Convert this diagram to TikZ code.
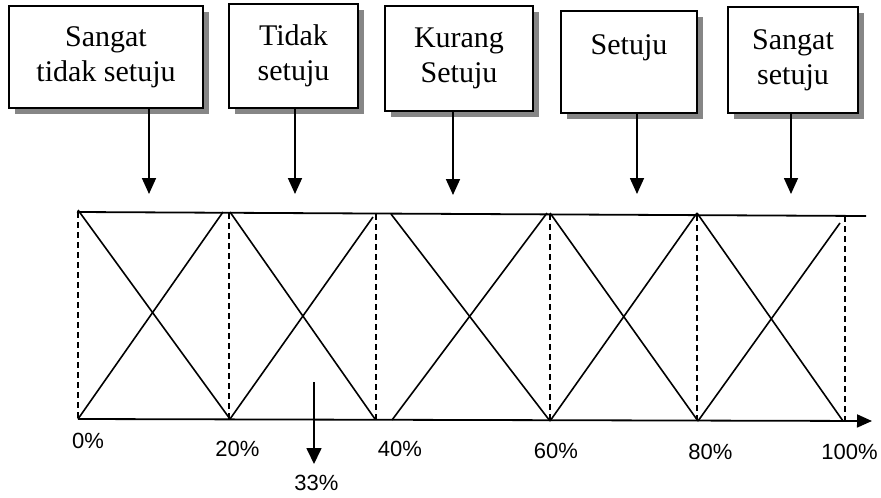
\documentclass[tikz,border=0pt]{standalone}
\usepackage{fontspec}
\setmainfont{Liberation Serif}
\newfontfamily\labelfont{Liberation Sans}
\usetikzlibrary{arrows.meta,shadows}
\begin{document}
\begin{tikzpicture}[x=1pt,y=-1pt,
  catbox/.style={draw,line width=1.8pt,fill=white,align=center,inner sep=0pt,
    font=\fontsize{30}{35}\selectfont,
    drop shadow={shadow xshift=6pt,shadow yshift=-6pt,fill=gray!95,opacity=1}},
  pointer/.style={line width=1.7pt,-{Triangle[width=14pt,length=16pt]}},
  frame/.style={line width=1.8pt},
  member/.style={line width=1.6pt},
  guide/.style={line width=1.5pt,dash pattern=on 6pt off 4pt},
  pct/.style={font=\labelfont\fontsize{22}{26}\selectfont,inner sep=0pt}]
\useasboundingbox (0,0) rectangle (881,498);

% category boxes
\node[catbox,minimum width=194pt,minimum height=102pt] (b1) at (106,57) {Sangat\\tidak setuju};
\node[catbox,minimum width=129pt,minimum height=104pt] (b2) at (293.5,56) {Tidak\\setuju};
\node[catbox,minimum width=148pt,minimum height=105pt] (b3) at (459,58.5) {Kurang\\Setuju};
\node[catbox,minimum width=136pt,minimum height=102pt] (b4) at (629,62) {Setuju\\\mbox{}};
\node[catbox,minimum width=130pt,minimum height=106pt] (b5) at (793,60) {Sangat\\setuju};

% arrow ends below the boxes
\coordinate (t1) at (149,194);
\coordinate (t2) at (295,194);
\coordinate (t3) at (453,195);
\coordinate (t4) at (637,194);
\coordinate (t5) at (791,194);
\foreach \i in {1,...,5}
  \draw[pointer] (t\i |- b\i.south) -- (t\i);

% frame of the membership chart
\coordinate (tl) at (77,212);
\coordinate (tr) at (866,216);
\coordinate (bl) at (78,419);
\coordinate (br) at (872,421);
\draw[frame] (tl) -- (tr);
\draw[frame,-{Triangle[width=13pt,length=15pt]}] (bl) -- (br);

% dashed guides at each division
\foreach \x/\yt/\yb in {78/212/419, 229/213/419, 376/214/420, 550/214/421, 697/215/421, 845/216/421}
  \draw[guide] (\x,\yt) -- (\x,\yb);

% triangular membership functions
\draw[member] (78,210) -- (230,419);
\draw[member] (78,419) -- (223,212);
\draw[member] (230,212) -- (375,419);
\draw[member] (230,419) -- (373,217);
\draw[member] (391,214) -- (550,421);
\draw[member] (392,420) -- (547,213);
\draw[member] (550,213) -- (698,421);
\draw[member] (550,421) -- (697,213);
\draw[member] (697,213) -- (843,421);
\draw[member] (698,421) -- (840,223);

% scale labels
\node[pct] (p0) at (88,441) {0\%};
\node[pct] (p20) at (237.5,449) {20\%};
\node[pct] (p40) at (400,449) {40\%};
\node[pct] (p60) at (556,451) {60\%};
\node[pct] (p80) at (710.5,452) {80\%};
\node[pct] (p100) at (849.5,452) {100\%};

% marker at 33%
\node[pct] (p33) at (316.5,483) {33\%};
\coordinate (m33) at (314,382);
\coordinate (h33) at (314,464);
\draw[pointer,-{Triangle[width=15pt,length=16pt]}] (m33) -- (h33);
\end{tikzpicture}
\end{document}
